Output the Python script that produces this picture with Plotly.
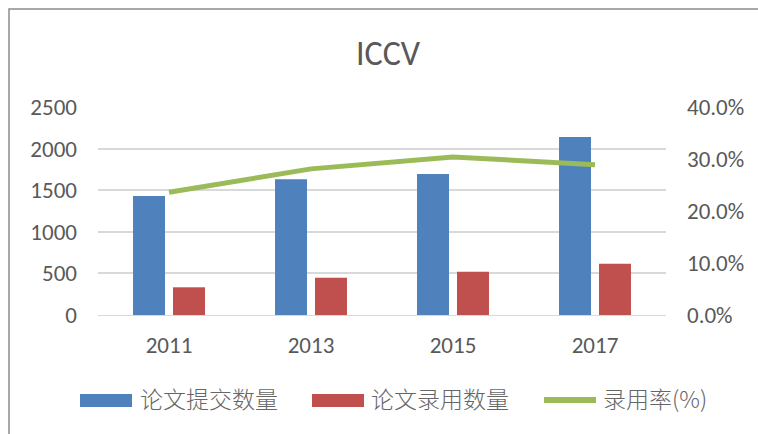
import plotly.graph_objects as go

years = ["2011", "2013", "2015", "2017"]
submitted = [1430, 1631, 1695, 2139]
accepted = [333, 448, 520, 617]
rate = [0.236, 0.281, 0.304, 0.289]
series_names = ["论文提交数量", "论文录用数量", "录用率(%)"]
colors = ["#4F81BD", "#C0504D", "#9BBB59"]

W, H = 758, 434
L, R, T, B = 98, 92, 107, 119
PW, PH = W - L - R, H - T - B


def px_x(p):
    return (p - L) / PW


def px_y(p):
    return (H - B - p) / PH


font_num = "Carlito, Calibri, Lato, sans-serif"
font_cjk = "'Noto Sans CJK SC', sans-serif"
grey = "#595959"

fig = go.Figure()
fig.add_trace(go.Bar(x=years, y=submitted, name=series_names[0], marker_color=colors[0],
                     marker_line_width=0))
fig.add_trace(go.Bar(x=years, y=accepted, name=series_names[1], marker_color=colors[1],
                     marker_line_width=0))
fig.add_trace(go.Scatter(x=years, y=rate, name=series_names[2], mode="lines",
                         line=dict(color=colors[2], width=5), yaxis="y2"))

# custom legend (wide swatches like the original)
shapes = [
    dict(type="rect", xref="paper", yref="paper", x0=px_x(80), x1=px_x(132),
         y0=px_y(407), y1=px_y(394), fillcolor=colors[0], line_width=0),
    dict(type="rect", xref="paper", yref="paper", x0=px_x(312), x1=px_x(364),
         y0=px_y(407), y1=px_y(394), fillcolor=colors[1], line_width=0),
    dict(type="line", xref="paper", yref="paper", x0=px_x(544), x1=px_x(596),
         y0=px_y(400), y1=px_y(400), line=dict(color=colors[2], width=6)),
    # chart frame
    dict(type="rect", xref="paper", yref="paper", x0=px_x(9), x1=px_x(W + 20),
         y0=px_y(H + 20), y1=px_y(9), line=dict(color="#8C8C8C", width=1.5),
         fillcolor="rgba(0,0,0,0)", layer="below"),
]
legend_font = dict(family=font_cjk, size=23, color="#666666", weight=300)
annotations = [
    dict(text=series_names[0], xref="paper", yref="paper", x=px_x(138), y=px_y(397.5),
         xanchor="left", yanchor="middle", showarrow=False, font=legend_font),
    dict(text=series_names[1], xref="paper", yref="paper", x=px_x(369), y=px_y(397.5),
         xanchor="left", yanchor="middle", showarrow=False, font=legend_font),
    dict(text=series_names[2], xref="paper", yref="paper", x=px_x(601), y=px_y(397.5),
         xanchor="left", yanchor="middle", showarrow=False, font=legend_font),
]

fig.update_layout(
    width=W, height=H,
    margin=dict(l=L, r=R, t=T, b=B),
    paper_bgcolor="white", plot_bgcolor="white",
    showlegend=False,
    barmode="group", bargap=0.437, bargroupgap=0.2,
    title=dict(text="ICCV", x=388 / W, xanchor="center", y=1 - 53 / H, yanchor="middle",
               font=dict(family=font_num, size=34, color=grey)),
    xaxis=dict(showline=True, linecolor="#D9D9D9", linewidth=1, ticks="",
               tickfont=dict(family=font_num, size=23, color=grey),
               ticklabelstandoff=9),
    yaxis=dict(range=[0, 2500], dtick=500, showgrid=True, gridcolor="#D9D9D9",
               gridwidth=1.5, zeroline=False,
               tickfont=dict(family=font_num, size=23, color=grey),
               ticklabelstandoff=20),
    yaxis2=dict(range=[0, 0.4], dtick=0.1, tickformat=".1%", overlaying="y",
                side="right", showgrid=False, zeroline=False,
                tickfont=dict(family=font_num, size=23, color=grey),
                ticklabelstandoff=20),
    shapes=shapes,
    annotations=annotations,
)

fig.write_html("out.html", post_script="document.body.style.margin='0';",
               config={"displayModeBar": False})
